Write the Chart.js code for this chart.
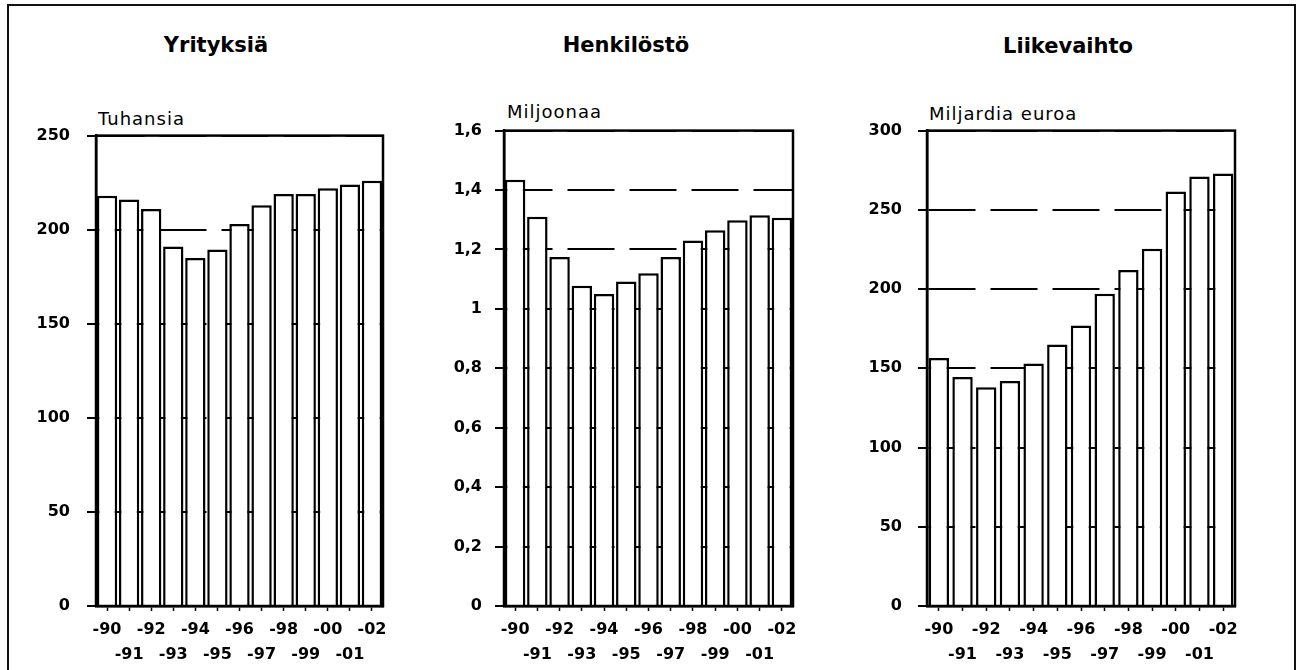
<!DOCTYPE html>
<html><head><meta charset="utf-8">
<script src="https://cdn.jsdelivr.net/npm/chart.js@4"></script>
<style>
html,body{margin:0;padding:0;background:#fff;width:1302px;height:670px;overflow:hidden;position:relative;}
#frame{position:absolute;left:7px;top:4px;width:1289px;height:720px;border:2px solid #111;box-sizing:border-box;}
.box{position:absolute;}
.title{position:absolute;width:300px;text-align:center;font:bold 21px/21px "DejaVu Sans";color:#000;white-space:nowrap;}
.unit{position:absolute;font:18px/18px "DejaVu Sans";letter-spacing:1px;color:#000;white-space:nowrap;}
</style></head><body>
<div id="frame"></div>
<div class="title" style="left:66px;top:35px;">Yrityksiä</div>
<div class="title" style="left:476px;top:35px;">Henkilöstö</div>
<div class="title" style="left:918px;top:36px;">Liikevaihto</div>
<div class="unit" style="left:98px;top:110px;">Tuhansia</div>
<div class="unit" style="left:507px;top:103px;">Miljoonaa</div>
<div class="unit" style="left:929px;top:105px;">Miljardia euroa</div>
<div class="box" style="left:16px;top:109px;width:379px;height:559px;"><canvas id="c1"></canvas></div>
<div class="box" style="left:424px;top:108px;width:381px;height:560px;"><canvas id="c2"></canvas></div>
<div class="box" style="left:847px;top:105px;width:400px;height:563px;"><canvas id="c3"></canvas></div>
<script>
// Categories (years) and tick labels
const years = ['-90','-91','-92','-93','-94','-95','-96','-97','-98','-99','-00','-01','-02'];
// Series values
const yrityksia = [218, 216, 211, 191, 185, 189.5, 203, 213, 219, 219, 222, 224, 226];      // tuhansia
const henkilosto = [1.435, 1.31, 1.175, 1.078, 1.05, 1.092, 1.12, 1.175, 1.23, 1.265, 1.298, 1.315, 1.307]; // miljoonaa
const liikevaihto = [156.5, 144.5, 138, 142, 153, 165, 177, 197, 212, 225.5, 261.5, 271, 273]; // miljardia euroa

const FONT = 'DejaVu Sans';

const boxPlugin = {
  id: 'plotBox',
  afterDatasetsDraw(chart) {
    const {ctx, chartArea: a} = chart;
    ctx.save();
    ctx.strokeStyle = '#000';
    ctx.lineWidth = 2.5;
    ctx.strokeRect(a.left, a.top, a.right - a.left, a.bottom - a.top);
    ctx.restore();
  }
};

function fmt(v) {
  const r = Math.round(v * 10) / 10;
  return String(r).replace('.', ',');
}

function makeChart(id, values, max, step, labelPad, barPct) {
  return new Chart(document.getElementById(id), {
    type: 'bar',
    data: {
      labels: years,
      datasets: [{
        data: values,
        backgroundColor: '#fff',
        borderColor: '#000',
        borderWidth: 2.5,
        barPercentage: barPct,
        categoryPercentage: 1
      }]
    },
    options: {
      responsive: true,
      maintainAspectRatio: false,
      animation: false,
      layout: {padding: {top: 0, right: 12, left: 0, bottom: 0}},
      plugins: {legend: {display: false}, tooltip: {enabled: false}},
      scales: {
        x: {
          ticks: {
            color: '#000', padding: 6, maxRotation: 0, minRotation: 0, autoSkip: false,
            font: {family: FONT, weight: 'bold', size: 16, lineHeight: '25px'},
            callback: (v, i) => (i % 2 ? ['', years[i]] : years[i])
          },
          grid: {display: true, drawOnChartArea: false, offset: false, tickLength: 5,
                 tickColor: '#000', tickWidth: 1.5, color: '#000'},
          border: {display: true, color: '#000', width: 2.5},
          afterFit: s => { s.height = 62; }
        },
        y: {
          min: 0, max: max,
          ticks: {
            stepSize: step, padding: labelPad, color: '#000',
            font: {family: FONT, weight: 'bold', size: 16},
            callback: v => fmt(v)
          },
          grid: {color: '#000', lineWidth: 2, tickLength: 9, tickColor: '#000',
                 tickWidth: 2, tickBorderDash: [], drawTicks: true},
          border: {display: true, color: '#000', width: 2.5, dash: [47, 15]},
          afterFit: s => { s.width = 80; }
        }
      }
    },
    plugins: [boxPlugin]
  });
}

makeChart('c1', yrityksia, 250, 50, 17, 0.92);
makeChart('c2', henkilosto, 1.6, 0.2, 13, 0.92);
makeChart('c3', liikevaihto, 300, 50, 16, 0.86);
</script>
</body></html>
